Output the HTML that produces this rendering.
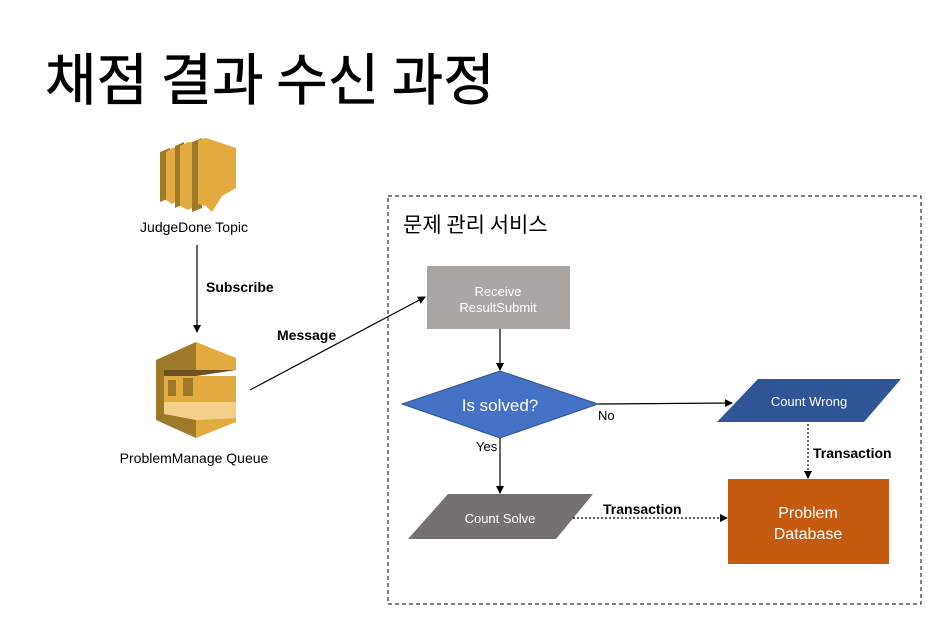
<!DOCTYPE html>
<html><head><meta charset="utf-8"><style>
body{margin:0;background:#fff;}
svg{display:block;font-family:"Liberation Sans","Noto Sans CJK KR",sans-serif;}
</style></head><body>
<svg width="947" height="622" viewBox="0 0 947 622">
<defs>
<marker id="a" markerWidth="8" markerHeight="8" refX="7" refY="4" orient="auto" markerUnits="userSpaceOnUse"><path d="M0,0 L8,4 L0,8 z" fill="#000"/></marker>
</defs>
<text x="45" y="100" font-size="56" font-weight="400" fill="#000" stroke="#000" stroke-width="0.6" font-family="Noto Sans CJK KR,sans-serif">채점 결과 수신 과정</text>

<!-- Topic icon -->
<g>
<polygon points="160,152 170,148 170,198 160,202" fill="#9d7a2a"/>
<polygon points="166,152 172,148 178,148 178,200 172,204 166,200" fill="#e3ab3f"/>
<polygon points="175,146 184,142 184,204 175,208" fill="#9d7a2a"/>
<polygon points="180,146 188,142 196,142 196,206 188,210 180,206" fill="#e3ab3f"/>
<polygon points="192,142 202,138 202,208 192,212" fill="#9d7a2a"/>
<polygon points="198,140 206,138 236,148 236,188 222,196 212,212 206,206 198,204" fill="#e3ab3f"/>
</g>
<text x="194" y="232" font-size="14" text-anchor="middle">JudgeDone Topic</text>
<line x1="197" y1="245" x2="197" y2="332" stroke="#000" stroke-width="1.2" marker-end="url(#a)"/>
<text x="206" y="292" font-size="14" font-weight="bold">Subscribe</text>

<!-- Queue icon -->
<g>
<polygon points="196,342 156,360 156,420 196,438" fill="#9d7a2a"/>
<polygon points="196,342 236,358 236,370 196,376" fill="#e3ab3f"/>
<polygon points="164,370 236,370 196,376 164,376" fill="#6b5220"/>
<polygon points="164,376 236,376 236,396 164,396" fill="#e3ab3f"/>
<polygon points="168,380 176,380 176,400 168,400" fill="#9d7a2a"/>
<polygon points="183,378 193,378 193,400 183,400" fill="#9d7a2a"/>
<polygon points="164,396 236,396 236,402 164,402" fill="#e3ab3f"/>
<polygon points="164,402 236,402 236,418 196,420 164,414" fill="#f5d08a"/>
<polygon points="196,420 236,418 236,422 196,438" fill="#e3ab3f"/>
</g>
<text x="194" y="463" font-size="14" text-anchor="middle">ProblemManage Queue</text>
<line x1="250" y1="390" x2="425" y2="297" stroke="#000" stroke-width="1.2" marker-end="url(#a)"/>
<text x="277" y="340" font-size="14" font-weight="bold">Message</text>

<rect x="388" y="196" width="533" height="408" fill="none" stroke="#000" stroke-dasharray="4,3"/>
<text x="403" y="232" font-size="21" font-family="Noto Sans CJK KR,sans-serif">문제 관리 서비스</text>

<rect x="427" y="266" width="143" height="63" fill="#aaa6a4"/>
<text x="498" y="296" font-size="13" fill="#fff" text-anchor="middle">Receive</text>
<text x="498" y="312" font-size="13" fill="#fff" text-anchor="middle">ResultSubmit</text>
<line x1="500" y1="329" x2="500" y2="370" stroke="#000" stroke-width="1.2" marker-end="url(#a)"/>

<polygon points="402,404 500,371 598,404 500,438" fill="#4472c4" stroke="#2f528f"/>
<text x="500" y="411" font-size="17" fill="#fff" text-anchor="middle">Is solved?</text>

<line x1="598" y1="404" x2="732" y2="403" stroke="#000" stroke-width="1.2" marker-end="url(#a)"/>
<text x="598" y="420" font-size="13">No</text>
<line x1="500" y1="438" x2="500" y2="493" stroke="#000" stroke-width="1.2" marker-end="url(#a)"/>
<text x="476" y="451" font-size="13">Yes</text>

<polygon points="758,379 901,379 864,422 717,422" fill="#2f5597"/>
<text x="809" y="406" font-size="13" fill="#fff" text-anchor="middle">Count Wrong</text>

<polygon points="448,494 593,494 556,539 408,539" fill="#767171"/>
<text x="500" y="523" font-size="13" fill="#fff" text-anchor="middle">Count Solve</text>

<rect x="728" y="479" width="161" height="85" fill="#c55a11"/>
<text x="808" y="518" font-size="16" fill="#fff" text-anchor="middle">Problem</text>
<text x="808" y="539" font-size="16" fill="#fff" text-anchor="middle">Database</text>

<line x1="573" y1="518" x2="727" y2="518" stroke="#000" stroke-width="1.2" stroke-dasharray="2,2" marker-end="url(#a)"/>
<text x="603" y="514" font-size="14" font-weight="bold">Transaction</text>
<line x1="808" y1="424" x2="808" y2="478" stroke="#000" stroke-width="1.2" stroke-dasharray="2,2" marker-end="url(#a)"/>
<text x="813" y="458" font-size="14" font-weight="bold">Transaction</text>
</svg>
</body></html>
